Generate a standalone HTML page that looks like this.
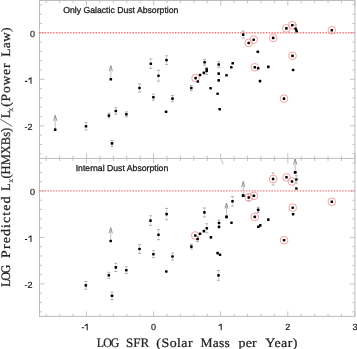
<!DOCTYPE html>
<html><head><meta charset="utf-8"><style>
html,body{margin:0;padding:0;background:#fff;width:357px;height:349px;overflow:hidden}
svg{display:block;will-change:transform;text-rendering:geometricPrecision}
.t{font-family:"Liberation Sans",sans-serif;font-size:9px;fill:#1a1a1a;stroke:#1a1a1a;stroke-width:0.18px}
.lab{font-family:"Liberation Sans",sans-serif;font-size:8.68px;fill:#1a1a1a;stroke:#1a1a1a;stroke-width:0.28px}
.ser{font-family:"Liberation Serif",serif;font-size:11.8px;fill:#222;stroke:#222;stroke-width:0.22px}
.sub{font-family:"Liberation Serif",serif;font-size:5.6px;fill:#222;stroke:#222;stroke-width:0.15px}
</style></head><body>
<svg width="357" height="349" viewBox="0 0 357 349">
<rect x="39.5" y="0.5" width="315.40" height="315.90" fill="none" stroke="#bcbcbc" stroke-width="1"/>
<line x1="39.5" y1="158.4" x2="354.9" y2="158.4" stroke="#bcbcbc" stroke-width="1"/>
<path d="M46.21 316.4v-2.6 M46.21 0.5v2.6 M46.21 158.4v-2.6 M46.21 158.4v2.6 M59.63 316.4v-2.6 M59.63 0.5v2.6 M59.63 158.4v-2.6 M59.63 158.4v2.6 M73.05 316.4v-2.6 M73.05 0.5v2.6 M73.05 158.4v-2.6 M73.05 158.4v2.6 M86.47 316.4v-5 M86.47 0.5v5 M86.47 158.4v-5 M86.47 158.4v5 M99.90 316.4v-2.6 M99.90 0.5v2.6 M99.90 158.4v-2.6 M99.90 158.4v2.6 M113.32 316.4v-2.6 M113.32 0.5v2.6 M113.32 158.4v-2.6 M113.32 158.4v2.6 M126.74 316.4v-2.6 M126.74 0.5v2.6 M126.74 158.4v-2.6 M126.74 158.4v2.6 M140.16 316.4v-2.6 M140.16 0.5v2.6 M140.16 158.4v-2.6 M140.16 158.4v2.6 M153.58 316.4v-5 M153.58 0.5v5 M153.58 158.4v-5 M153.58 158.4v5 M167.00 316.4v-2.6 M167.00 0.5v2.6 M167.00 158.4v-2.6 M167.00 158.4v2.6 M180.42 316.4v-2.6 M180.42 0.5v2.6 M180.42 158.4v-2.6 M180.42 158.4v2.6 M193.84 316.4v-2.6 M193.84 0.5v2.6 M193.84 158.4v-2.6 M193.84 158.4v2.6 M207.27 316.4v-2.6 M207.27 0.5v2.6 M207.27 158.4v-2.6 M207.27 158.4v2.6 M220.69 316.4v-5 M220.69 0.5v5 M220.69 158.4v-5 M220.69 158.4l2.7 6.1 M234.11 316.4v-2.6 M234.11 0.5v2.6 M234.11 158.4v-2.6 M234.11 158.4v2.6 M247.53 316.4v-2.6 M247.53 0.5v2.6 M247.53 158.4v-2.6 M247.53 158.4v2.6 M260.95 316.4v-2.6 M260.95 0.5v2.6 M260.95 158.4v-2.6 M260.95 158.4v2.6 M274.37 316.4v-2.6 M274.37 0.5v2.6 M274.37 158.4v-2.6 M274.37 158.4v2.6 M287.79 316.4v-5 M287.79 0.5v5 M287.79 158.4v-5 M287.79 158.4v5 M301.21 316.4v-2.6 M301.21 0.5v2.6 M301.21 158.4v-2.6 M301.21 158.4v2.6 M314.64 316.4v-2.6 M314.64 0.5v2.6 M314.64 158.4v-2.6 M314.64 158.4v2.6 M328.06 316.4v-2.6 M328.06 0.5v2.6 M328.06 158.4v-2.6 M328.06 158.4v2.6 M341.48 316.4v-2.6 M341.48 0.5v2.6 M341.48 158.4v-2.6 M341.48 158.4v2.6 M354.90 316.4v-5 M354.90 0.5v5 M354.90 158.4v-5 M354.90 158.4v5 M39.5 153.75h2.5 M354.9 153.75h-2.5 M39.5 144.44h2.5 M354.9 144.44h-2.5 M39.5 135.14h2.5 M354.9 135.14h-2.5 M39.5 125.83h5 M354.9 125.83h-5 M39.5 116.52h2.5 M354.9 116.52h-2.5 M39.5 107.22h2.5 M354.9 107.22h-2.5 M39.5 97.91h2.5 M354.9 97.91h-2.5 M39.5 88.61h2.5 M354.9 88.61h-2.5 M39.5 79.30h5 M354.9 79.30h-5 M39.5 69.99h2.5 M354.9 69.99h-2.5 M39.5 60.69h2.5 M354.9 60.69h-2.5 M39.5 51.38h2.5 M354.9 51.38h-2.5 M39.5 42.08h2.5 M354.9 42.08h-2.5 M39.5 32.77h5 M354.9 32.77h-5 M39.5 23.46h2.5 M354.9 23.46h-2.5 M39.5 14.16h2.5 M354.9 14.16h-2.5 M39.5 4.85h2.5 M354.9 4.85h-2.5 M39.5 311.75h2.5 M354.9 311.75h-2.5 M39.5 302.46h2.5 M354.9 302.46h-2.5 M39.5 293.16h2.5 M354.9 293.16h-2.5 M39.5 283.87h5 M354.9 283.87h-5 M39.5 274.58h2.5 M354.9 274.58h-2.5 M39.5 265.28h2.5 M354.9 265.28h-2.5 M39.5 255.99h2.5 M354.9 255.99h-2.5 M39.5 246.69h2.5 M354.9 246.69h-2.5 M39.5 237.40h5 M354.9 237.40h-5 M39.5 228.11h2.5 M354.9 228.11h-2.5 M39.5 218.81h2.5 M354.9 218.81h-2.5 M39.5 209.52h2.5 M354.9 209.52h-2.5 M39.5 200.22h2.5 M354.9 200.22h-2.5 M39.5 190.93h5 M354.9 190.93h-5 M39.5 181.64h2.5 M354.9 181.64h-2.5 M39.5 172.34h2.5 M354.9 172.34h-2.5 M39.5 163.05h2.5 M354.9 163.05h-2.5" stroke="#bcbcbc" stroke-width="0.9" fill="none"/>
<line x1="38.92" y1="32.77" x2="354.9" y2="32.77" stroke="#f47878" stroke-width="1.35" stroke-dasharray="1.5 1.335"/>
<line x1="38.92" y1="190.93" x2="354.9" y2="190.93" stroke="#f47878" stroke-width="1.35" stroke-dasharray="1.5 1.335"/>
<text x="34.9" y="37.27" text-anchor="end" class="t">0</text>
<text x="24.6" y="130.33" class="t">-2</text>
<text x="34.9" y="195.43" text-anchor="end" class="t">0</text>
<text x="24.6" y="288.37" class="t">-2</text>
<text x="153.58" y="330.2" text-anchor="middle" class="t">0</text>
<text x="287.79" y="330.2" text-anchor="middle" class="t">2</text>
<text x="354.90" y="330.2" text-anchor="middle" class="t">3</text>
<path d="M24.90 81.35H27.20 M28.50 79.50L30.80 77.80M31.00 77.30V83.80 M24.90 239.45H27.20 M28.50 237.60L30.80 235.90M31.00 235.40V241.90 M81.70 327.75H84.10 M84.70 325.90L87.00 324.20M87.20 323.70V330.20 M218.70 325.90L221.00 324.20M221.20 323.70V330.20" stroke="#1a1a1a" stroke-width="1.05" fill="none"/>
<text x="63.2" y="12.8" class="lab">Only Galactic Dust Absorption</text>
<text x="75.7" y="170.8" class="lab">Internal Dust Absorption</text>
<text x="-0.3" y="0" transform="translate(97.15 346.5) scale(1.0 1.1)" class="ser" style="letter-spacing:-0.900px">LOG</text>
<text x="-0.8" y="0" transform="translate(126.95 346.5) scale(1.1 1.1)" class="ser" style="letter-spacing:0.014px">SFR</text>
<text x="-0.5" y="0" transform="translate(156.95 346.5) scale(1.18 1.1)" class="ser" style="letter-spacing:0.378px">(Solar</text>
<text x="-0.3" y="0" transform="translate(200.75 346.5) scale(1.15 1.1)" class="ser" style="letter-spacing:0.220px">Mass</text>
<text x="-0.2" y="0" transform="translate(238.65 346.5) scale(1.18 1.1)" class="ser" style="letter-spacing:0.223px">per</text>
<text x="-0.1" y="0" transform="translate(265.45 346.5) scale(1.18 1.1)" class="ser" style="letter-spacing:0.387px">Year)</text>
<g transform="rotate(-90)"><text x="-0.3" y="0" transform="translate(-286.35 9.6) scale(1.0 1.1)" class="ser" style="letter-spacing:-1.150px">LOG</text><text x="-0.3" y="0" transform="translate(-257.55 9.6) scale(1.18 1.1)" class="ser" style="letter-spacing:0.932px">Predicted</text><text x="-0.3" y="0" transform="translate(-190.35 9.6) scale(1.0 1.1)" class="ser" style="letter-spacing:0.000px">L</text><text x="-0.2" y="0" transform="translate(-182.65 13.4) scale(1.0 1.0)" class="sub" style="letter-spacing:0.000px">X</text><text x="-0.5" y="0" transform="translate(-178.05 9.6) scale(1.06 1.1)" class="ser" style="letter-spacing:0.017px">(HMXBs)</text><text x="-0.3" y="0" transform="translate(-117.65 9.6) scale(1.0 1.1)" class="ser" style="letter-spacing:0.000px">L</text><text x="-0.2" y="0" transform="translate(-111.65 13.4) scale(1.0 1.0)" class="sub" style="letter-spacing:0.000px">X</text><text x="-0.5" y="0" transform="translate(-106.15 9.6) scale(1.15 1.1)" class="ser" style="letter-spacing:0.691px">(Power</text><text x="-0.3" y="0" transform="translate(-56.35 9.6) scale(1.15 1.1)" class="ser" style="letter-spacing:0.197px">Law)</text></g>
<path d="M12.2 126.3L0.3 119.1" stroke="#333" stroke-width="0.75"/>
<path d="M86.00 122.60V130.00 M108.90 113.20V118.00 M115.80 107.80V114.20 M126.40 111.90V116.70 M139.50 83.90V92.10 M150.80 59.00V68.40 M158.50 70.30V81.10 M153.40 94.20V100.20 M112.00 140.40V146.40 M166.50 55.80V64.40 M172.50 95.50V101.70 M191.30 85.60V90.40 M204.60 59.40V65.20 M206.70 67.40V74.60 M218.70 61.80V67.20 M243.20 31.10V38.10 M295.70 24.80V32.80 M85.80 281.60V289.20 M150.50 215.80V225.40 M158.50 229.70V239.70 M139.50 244.60V253.40 M153.40 250.80V257.60 M115.80 263.30V271.50 M108.80 272.30V278.30 M126.30 266.90V273.50 M112.00 292.10V299.50 M166.60 208.40V219.80 M172.50 253.10V259.90 M218.50 270.50V280.30 M191.40 244.20V249.00 M197.60 236.40V241.60 M204.40 208.00V216.80 M206.80 223.80V232.80 M219.00 220.20V225.80 M232.50 196.50V206.10 M248.70 194.00V201.00 M258.20 207.30V212.50 M273.10 173.00V185.00 M296.40 175.80V183.20" stroke="#c4c4c4" stroke-width="0.6" fill="none"/>
<path d="M84.60 122.60h2.8M84.60 130.00h2.8 M107.50 113.20h2.8M107.50 118.00h2.8 M114.40 107.80h2.8M114.40 114.20h2.8 M125.00 111.90h2.8M125.00 116.70h2.8 M138.10 83.90h2.8M138.10 92.10h2.8 M149.40 59.00h2.8M149.40 68.40h2.8 M157.10 70.30h2.8M157.10 81.10h2.8 M152.00 94.20h2.8M152.00 100.20h2.8 M110.60 140.40h2.8M110.60 146.40h2.8 M165.10 55.80h2.8M165.10 64.40h2.8 M171.10 95.50h2.8M171.10 101.70h2.8 M189.90 85.60h2.8M189.90 90.40h2.8 M203.20 59.40h2.8M203.20 65.20h2.8 M205.30 67.40h2.8M205.30 74.60h2.8 M217.30 61.80h2.8M217.30 67.20h2.8 M241.80 31.10h2.8M241.80 38.10h2.8 M294.30 24.80h2.8M294.30 32.80h2.8 M84.40 281.60h2.8M84.40 289.20h2.8 M149.10 215.80h2.8M149.10 225.40h2.8 M157.10 229.70h2.8M157.10 239.70h2.8 M138.10 244.60h2.8M138.10 253.40h2.8 M152.00 250.80h2.8M152.00 257.60h2.8 M114.40 263.30h2.8M114.40 271.50h2.8 M107.40 272.30h2.8M107.40 278.30h2.8 M124.90 266.90h2.8M124.90 273.50h2.8 M110.60 292.10h2.8M110.60 299.50h2.8 M165.20 208.40h2.8M165.20 219.80h2.8 M171.10 253.10h2.8M171.10 259.90h2.8 M217.10 270.50h2.8M217.10 280.30h2.8 M190.00 244.20h2.8M190.00 249.00h2.8 M196.20 236.40h2.8M196.20 241.60h2.8 M203.00 208.00h2.8M203.00 216.80h2.8 M205.40 223.80h2.8M205.40 232.80h2.8 M217.60 220.20h2.8M217.60 225.80h2.8 M231.10 196.50h2.8M231.10 206.10h2.8 M247.30 194.00h2.8M247.30 201.00h2.8 M256.80 207.30h2.8M256.80 212.50h2.8 M271.70 173.00h2.8M271.70 185.00h2.8 M295.00 175.80h2.8M295.00 183.20h2.8" stroke="#a0a0a0" stroke-width="0.9" fill="none"/>
<path d="M55.20 128.40V115.70 M110.80 78.10V66.10 M110.70 239.80V228.10 M226.50 215.70V203.50 M243.20 194.40V182.00 M295.20 171.20V159.50" stroke="#b0b0b0" stroke-width="0.8" fill="none"/>
<path d="M53.60 120.80L55.20 115.20L56.80 120.80 M109.20 71.20L110.80 65.60L112.40 71.20 M109.10 233.20L110.70 227.60L112.30 233.20 M224.90 208.60L226.50 203.00L228.10 208.60 M241.60 187.10L243.20 181.50L244.80 187.10 M293.60 164.60L295.20 159.00L296.80 164.60" stroke="#8a8a8a" stroke-width="0.9" fill="none" stroke-linejoin="miter"/>
<g fill="none" stroke="#f5a0a0" stroke-width="1"><circle cx="195.6" cy="78.1" r="3.85"/><circle cx="248.7" cy="43.0" r="3.85"/><circle cx="253.7" cy="39.7" r="3.85"/><circle cx="254.8" cy="67.3" r="3.85"/><circle cx="273.2" cy="37.9" r="3.85"/><circle cx="284.0" cy="98.6" r="3.85"/><circle cx="286.4" cy="28.4" r="3.85"/><circle cx="292.3" cy="25.2" r="3.85"/><circle cx="331.8" cy="30.3" r="3.85"/><circle cx="292.5" cy="55.9" r="3.85"/><circle cx="195.3" cy="235.5" r="3.85"/><circle cx="248.7" cy="197.5" r="3.85"/><circle cx="253.9" cy="195.8" r="3.85"/><circle cx="254.8" cy="216.9" r="3.85"/><circle cx="273.1" cy="179.0" r="3.85"/><circle cx="284.1" cy="240.2" r="3.85"/><circle cx="286.5" cy="177.3" r="3.85"/><circle cx="292.0" cy="181.5" r="3.85"/><circle cx="331.8" cy="201.7" r="3.85"/><circle cx="292.7" cy="207.7" r="3.85"/></g>
<g fill="#000"><rect x="53.90" y="128.30" width="2.6" height="2.6" rx="0.7"/><rect x="84.70" y="125.00" width="2.6" height="2.6" rx="0.7"/><rect x="109.50" y="78.00" width="2.6" height="2.6" rx="0.7"/><rect x="107.60" y="114.30" width="2.6" height="2.6" rx="0.7"/><rect x="114.50" y="109.70" width="2.6" height="2.6" rx="0.7"/><rect x="125.10" y="113.00" width="2.6" height="2.6" rx="0.7"/><rect x="138.20" y="86.70" width="2.6" height="2.6" rx="0.7"/><rect x="149.50" y="62.40" width="2.6" height="2.6" rx="0.7"/><rect x="157.20" y="74.40" width="2.6" height="2.6" rx="0.7"/><rect x="152.10" y="95.90" width="2.6" height="2.6" rx="0.7"/><rect x="110.70" y="142.10" width="2.6" height="2.6" rx="0.7"/><rect x="165.20" y="58.80" width="2.6" height="2.6" rx="0.7"/><rect x="171.20" y="97.30" width="2.6" height="2.6" rx="0.7"/><rect x="164.80" y="110.50" width="2.6" height="2.6" rx="0.7"/><rect x="190.00" y="86.70" width="2.6" height="2.6" rx="0.7"/><rect x="194.30" y="76.80" width="2.6" height="2.6" rx="0.7"/><rect x="196.50" y="80.20" width="2.6" height="2.6" rx="0.7"/><rect x="198.80" y="73.70" width="2.6" height="2.6" rx="0.7"/><rect x="202.60" y="71.60" width="2.6" height="2.6" rx="0.7"/><rect x="203.30" y="61.00" width="2.6" height="2.6" rx="0.7"/><rect x="205.40" y="67.90" width="2.6" height="2.6" rx="0.7"/><rect x="205.40" y="69.70" width="2.6" height="2.6" rx="0.7"/><rect x="209.30" y="86.90" width="2.6" height="2.6" rx="0.7"/><rect x="216.30" y="92.40" width="2.6" height="2.6" rx="0.7"/><rect x="217.40" y="63.20" width="2.6" height="2.6" rx="0.7"/><rect x="217.40" y="72.30" width="2.6" height="2.6" rx="0.7"/><rect x="217.40" y="79.10" width="2.6" height="2.6" rx="0.7"/><rect x="218.40" y="107.90" width="2.6" height="2.6" rx="0.7"/><rect x="225.20" y="74.00" width="2.6" height="2.6" rx="0.7"/><rect x="231.40" y="62.00" width="2.6" height="2.6" rx="0.7"/><rect x="230.00" y="66.00" width="2.6" height="2.6" rx="0.7"/><rect x="241.90" y="33.30" width="2.6" height="2.6" rx="0.7"/><rect x="247.40" y="41.70" width="2.6" height="2.6" rx="0.7"/><rect x="252.40" y="38.40" width="2.6" height="2.6" rx="0.7"/><rect x="256.50" y="50.50" width="2.6" height="2.6" rx="0.7"/><rect x="253.50" y="66.00" width="2.6" height="2.6" rx="0.7"/><rect x="256.90" y="67.00" width="2.6" height="2.6" rx="0.7"/><rect x="267.00" y="65.60" width="2.6" height="2.6" rx="0.7"/><rect x="258.70" y="79.80" width="2.6" height="2.6" rx="0.7"/><rect x="271.90" y="36.60" width="2.6" height="2.6" rx="0.7"/><rect x="282.70" y="97.30" width="2.6" height="2.6" rx="0.7"/><rect x="285.10" y="27.10" width="2.6" height="2.6" rx="0.7"/><rect x="291.00" y="23.90" width="2.6" height="2.6" rx="0.7"/><rect x="294.40" y="27.50" width="2.6" height="2.6" rx="0.7"/><rect x="295.30" y="29.60" width="2.6" height="2.6" rx="0.7"/><rect x="330.50" y="29.00" width="2.6" height="2.6" rx="0.7"/><rect x="291.20" y="54.60" width="2.6" height="2.6" rx="0.7"/><rect x="291.80" y="68.70" width="2.6" height="2.6" rx="0.7"/><rect x="84.50" y="284.10" width="2.6" height="2.6" rx="0.7"/><rect x="109.40" y="239.70" width="2.6" height="2.6" rx="0.7"/><rect x="149.20" y="219.30" width="2.6" height="2.6" rx="0.7"/><rect x="157.20" y="233.40" width="2.6" height="2.6" rx="0.7"/><rect x="138.20" y="247.70" width="2.6" height="2.6" rx="0.7"/><rect x="152.10" y="252.90" width="2.6" height="2.6" rx="0.7"/><rect x="114.50" y="266.10" width="2.6" height="2.6" rx="0.7"/><rect x="107.50" y="274.00" width="2.6" height="2.6" rx="0.7"/><rect x="125.00" y="268.90" width="2.6" height="2.6" rx="0.7"/><rect x="110.70" y="294.50" width="2.6" height="2.6" rx="0.7"/><rect x="165.30" y="212.80" width="2.6" height="2.6" rx="0.7"/><rect x="171.20" y="255.20" width="2.6" height="2.6" rx="0.7"/><rect x="165.00" y="270.20" width="2.6" height="2.6" rx="0.7"/><rect x="217.20" y="274.10" width="2.6" height="2.6" rx="0.7"/><rect x="190.10" y="245.30" width="2.6" height="2.6" rx="0.7"/><rect x="194.00" y="234.20" width="2.6" height="2.6" rx="0.7"/><rect x="196.30" y="237.70" width="2.6" height="2.6" rx="0.7"/><rect x="198.80" y="232.50" width="2.6" height="2.6" rx="0.7"/><rect x="202.60" y="229.80" width="2.6" height="2.6" rx="0.7"/><rect x="203.10" y="211.10" width="2.6" height="2.6" rx="0.7"/><rect x="205.50" y="227.00" width="2.6" height="2.6" rx="0.7"/><rect x="209.60" y="236.10" width="2.6" height="2.6" rx="0.7"/><rect x="217.70" y="221.70" width="2.6" height="2.6" rx="0.7"/><rect x="217.70" y="225.70" width="2.6" height="2.6" rx="0.7"/><rect x="216.30" y="251.80" width="2.6" height="2.6" rx="0.7"/><rect x="218.70" y="253.40" width="2.6" height="2.6" rx="0.7"/><rect x="225.10" y="215.50" width="2.8" height="2.8"/><rect x="230.20" y="221.40" width="2.6" height="2.6" rx="0.7"/><rect x="231.20" y="200.00" width="2.6" height="2.6" rx="0.7"/><rect x="241.80" y="194.20" width="2.8" height="2.8"/><rect x="247.40" y="196.20" width="2.6" height="2.6" rx="0.7"/><rect x="252.60" y="194.50" width="2.6" height="2.6" rx="0.7"/><rect x="256.90" y="208.60" width="2.6" height="2.6" rx="0.7"/><rect x="253.50" y="215.60" width="2.6" height="2.6" rx="0.7"/><rect x="267.00" y="218.30" width="2.6" height="2.6" rx="0.7"/><rect x="257.00" y="225.50" width="2.6" height="2.6" rx="0.7"/><rect x="259.00" y="224.10" width="2.6" height="2.6" rx="0.7"/><rect x="271.80" y="177.70" width="2.6" height="2.6" rx="0.7"/><rect x="282.80" y="238.90" width="2.6" height="2.6" rx="0.7"/><rect x="285.20" y="176.00" width="2.6" height="2.6" rx="0.7"/><rect x="290.70" y="180.20" width="2.6" height="2.6" rx="0.7"/><rect x="293.80" y="171.00" width="2.8" height="2.8"/><rect x="295.10" y="178.20" width="2.6" height="2.6" rx="0.7"/><rect x="295.10" y="187.20" width="2.6" height="2.6" rx="0.7"/><rect x="330.50" y="200.40" width="2.6" height="2.6" rx="0.7"/><rect x="291.40" y="206.40" width="2.6" height="2.6" rx="0.7"/><rect x="291.80" y="212.90" width="2.6" height="2.6" rx="0.7"/></g>
</svg></body></html>
